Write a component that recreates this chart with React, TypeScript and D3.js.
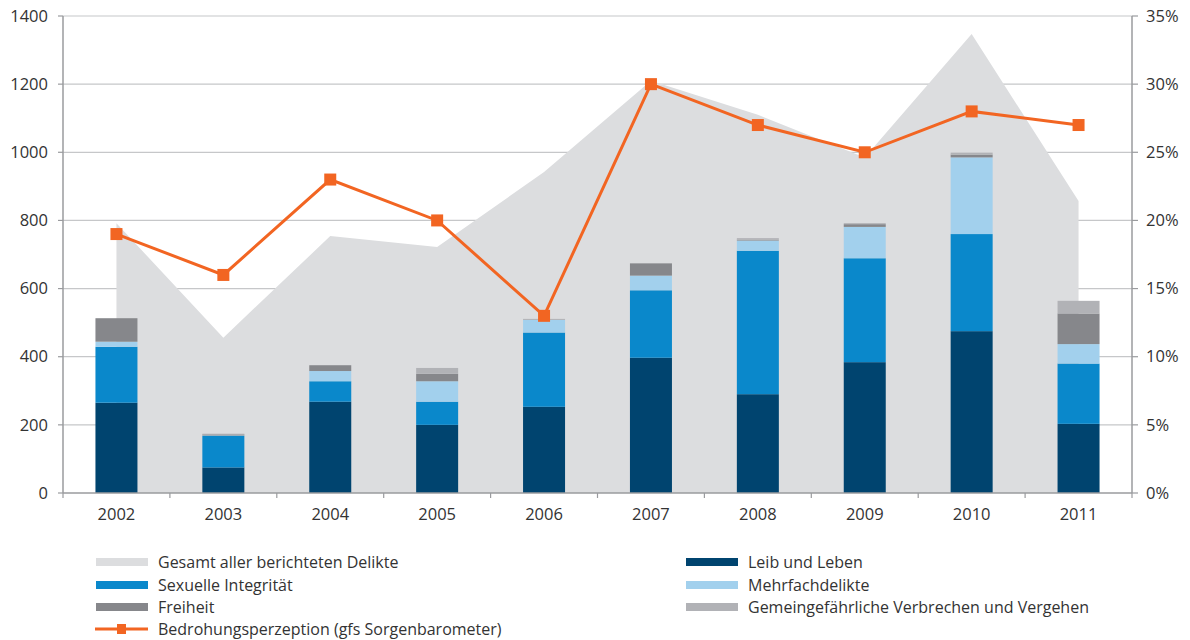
import React from "react";
import * as d3 from "d3";

const years = ["2002", "2003", "2004", "2005", "2006", "2007", "2008", "2009", "2010", "2011"];
const gesamt = [792, 456, 754, 722, 942, 1210, 1110, 985, 1347, 857];
const leib = [265, 75, 268, 200, 253, 397, 290, 384, 475, 203];
const sexuell = [164, 93, 60, 68, 218, 198, 421, 305, 285, 177];
const mehrfach = [15, 1, 30, 60, 37, 43, 30, 92, 225, 57];
const freiheit = [69, 3, 17, 22, 0, 36, 2, 8, 8, 90];
const gemein = [0, 2, 0, 17, 3, 0, 5, 3, 6, 37];
const bedrohung = [19, 16, 23, 20, 13, 30, 27, 25, 28, 27];
const leftTicks = [0, 200, 400, 600, 800, 1000, 1200, 1400];
const rightTicks = [0, 5, 10, 15, 20, 25, 30, 35];

const seriesNames = ["Leib und Leben", "Sexuelle Integrität", "Mehrfachdelikte", "Freiheit", "Gemeingefährliche Verbrechen und Vergehen"];
const seriesData = [leib, sexuell, mehrfach, freiheit, gemein];
const colors = ["#00446f", "#0a88cb", "#a2d0ed", "#86878b", "#b1b2b6"];
const areaColor = "#dcdddf";
const orange = "#f26522";

export default function App() {
  const W = 1190, H = 640;
  const x0 = 63, x1 = 1132, yTop = 16, yBot = 493;
  const x = d3.scaleBand().domain(years).range([x0, x1]).paddingInner(0.6).paddingOuter(0.3);
  const band = (x1 - x0) / years.length;
  const cx = (i: number) => x0 + band * (i + 0.5);
  const y = d3.scaleLinear().domain([0, 1400]).range([yBot, yTop]);
  const yr = d3.scaleLinear().domain([0, 35]).range([yBot, yTop]);

  const areaGen = d3.area<number>().x((_, i) => cx(i)).y0(yBot).y1((d) => y(d));
  const lineGen = d3.line<number>().x((_, i) => cx(i)).y((d) => yr(d));

  const rows = years.map((yy, i) => {
    const o: any = { year: yy };
    seriesNames.forEach((n, k) => (o[n] = seriesData[k][i]));
    return o;
  });
  const stacked = d3.stack<any>().keys(seriesNames)(rows);
  const barW = 42;

  const font = "'Open Sans', 'Noto Sans', sans-serif";
  const textColor = "#333";

  const legendLeft = [
    { label: "Gesamt aller berichteten Delikte", color: areaColor },
    { label: "Sexuelle Integrität", color: colors[1] },
    { label: "Freiheit", color: colors[3] },
  ];
  const legendRight = [
    { label: "Leib und Leben", color: colors[0] },
    { label: "Mehrfachdelikte", color: colors[2] },
    { label: "Gemeingefährliche Verbrechen und Vergehen", color: colors[4] },
  ];
  const rowY = [562, 585, 607, 629];

  return (
    <svg width={W} height={H} style={{ position: "absolute", left: 0, top: 0, fontFamily: font }}>
      <rect width={W} height={H} fill="#fff" />
      {leftTicks.slice(1).map((t) => (
        <line key={t} x1={x0} x2={x1} y1={y(t)} y2={y(t)} stroke="#c6c7c9" strokeWidth={1.2} />
      ))}
      <path d={areaGen(gesamt) || ""} fill={areaColor} />
      {stacked.map((s, k) =>
        s.map((d, i) => {
          const h = y(d[0]) - y(d[1]);
          if (h <= 0) return null;
          return (
            <rect key={k + "-" + i} x={cx(i) - barW / 2} y={y(d[1])} width={barW} height={h} fill={colors[k]} />
          );
        })
      )}
      {/* axes */}
      <line x1={x0} x2={x0} y1={yTop} y2={yBot} stroke="#9a9b9e" strokeWidth={1.5} />
      <line x1={x1} x2={x1} y1={yTop} y2={yBot} stroke="#9a9b9e" strokeWidth={1.5} />
      <line x1={x0} x2={x1} y1={yBot} y2={yBot} stroke="#9a9b9e" strokeWidth={1.5} />
      {leftTicks.map((t) => (
        <g key={"l" + t}>
          <line x1={x0 - 5} x2={x0} y1={y(t)} y2={y(t)} stroke="#9a9b9e" strokeWidth={1.2} />
          <text x={48} y={y(t)} dy="0.35em" textAnchor="end" fontSize={16.5} fill={textColor}>{t}</text>
        </g>
      ))}
      {rightTicks.map((t) => (
        <g key={"r" + t}>
          <line x1={x1} x2={x1 + 6} y1={yr(t)} y2={yr(t)} stroke="#9a9b9e" strokeWidth={1.2} />
          <text x={1146} y={yr(t)} dy="0.35em" textAnchor="start" fontSize={16.5} fill={textColor}>{t}%</text>
        </g>
      ))}
      {d3.range(years.length + 1).map((i) => (
        <line key={"xt" + i} x1={x0 + band * i} x2={x0 + band * i} y1={yBot} y2={yBot + 5} stroke="#9a9b9e" strokeWidth={1.2} />
      ))}
      {years.map((yy, i) => (
        <text key={"xl" + yy} x={(x(yy) || 0) + x.bandwidth() / 2} y={514} dy="0.35em" textAnchor="middle" fontSize={16.5} fill={textColor}>{yy}</text>
      ))}
      {/* line */}
      <path d={lineGen(bedrohung) || ""} fill="none" stroke={orange} strokeWidth={3} />
      {bedrohung.map((v, i) => (
        <rect key={"m" + i} x={cx(i) - 6} y={yr(v) - 6} width={12} height={12} fill={orange} />
      ))}
      {/* legend */}
      {legendLeft.map((l, i) => (
        <g key={"ll" + i}>
          <rect x={96} y={rowY[i] - 4} width={52} height={8} fill={l.color} />
          <text x={158} y={rowY[i]} dy="0.35em" fontSize={16} fill={textColor}>{l.label}</text>
        </g>
      ))}
      <g>
        <line x1={95} x2={148} y1={rowY[3]} y2={rowY[3]} stroke={orange} strokeWidth={3} />
        <rect x={117} y={rowY[3] - 5} width={9} height={10} fill={orange} />
        <text x={158} y={rowY[3]} dy="0.35em" fontSize={16} fill={textColor}>Bedrohungsperzeption (gfs Sorgenbarometer)</text>
      </g>
      {legendRight.map((l, i) => (
        <g key={"lr" + i}>
          <rect x={686} y={rowY[i] - 4} width={52} height={8} fill={l.color} />
          <text x={748} y={rowY[i]} dy="0.35em" fontSize={16} fill={textColor}>{l.label}</text>
        </g>
      ))}
    </svg>
  );
}
